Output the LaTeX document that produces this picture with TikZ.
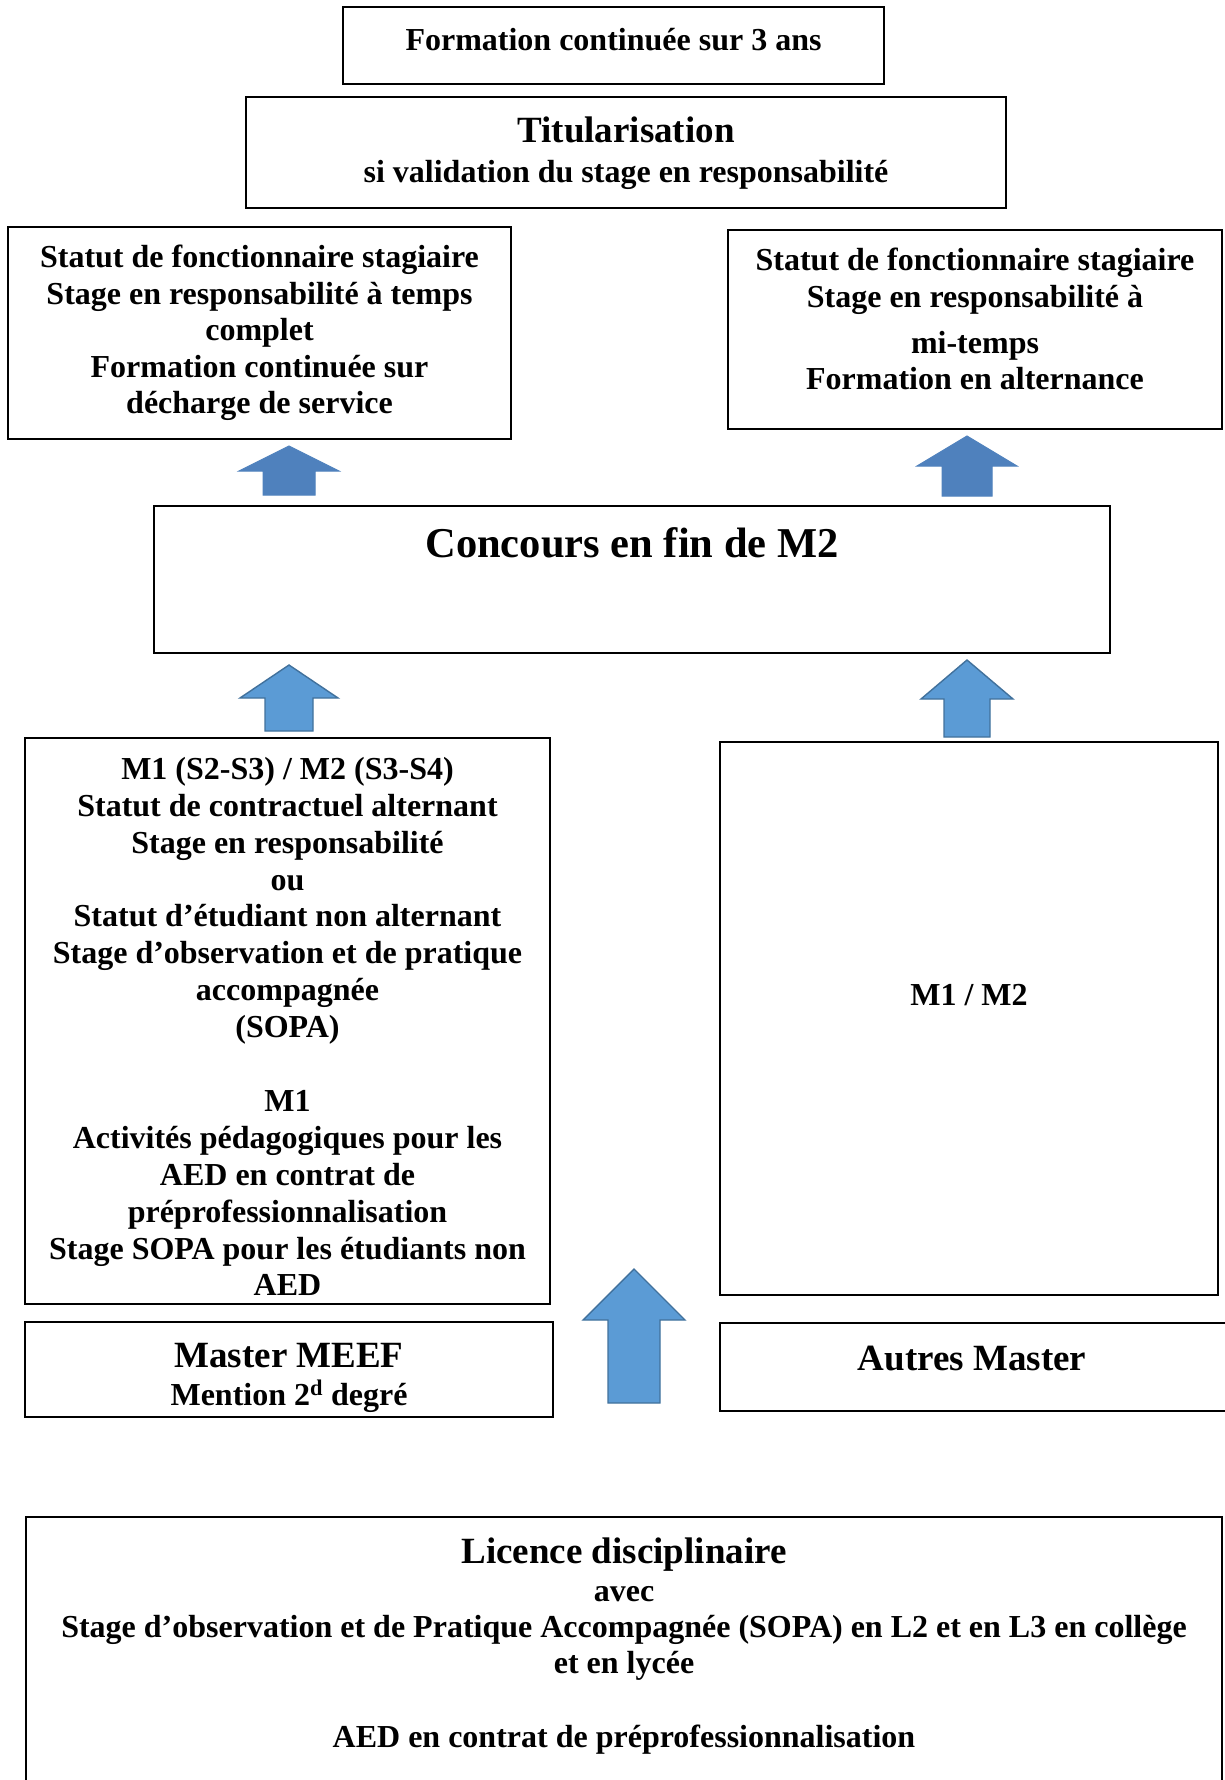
\documentclass[tikz,border=0pt]{standalone}
\usepackage{fontspec}
\setmainfont{Liberation Serif}
\begin{document}
\begin{tikzpicture}[x=1pt,y=-1pt,
  box/.style={draw=black,line width=2.2pt,fill=white,inner sep=0pt},
  txt/.style={font=\fontsize{32}{37}\selectfont\bfseries,inner sep=0pt,anchor=base},
  bigtxt/.style={font=\fontsize{37}{42}\selectfont\bfseries,inner sep=0pt,anchor=base},
  hugetxt/.style={font=\fontsize{42.5}{48}\selectfont\bfseries,inner sep=0pt,anchor=base},
  darkarrow/.style={fill=darkblue,draw=darkblue,line width=1pt,line join=miter},
  lightarrow/.style={fill=lightblue,draw=lightborder,line width=1.4pt,line join=miter}]
\definecolor{darkblue}{HTML}{4F81BD}
\definecolor{lightblue}{HTML}{5B9BD5}
\definecolor{lightborder}{HTML}{41719C}
\useasboundingbox[fill=white] (0,0) rectangle (1224,1780);

% rectangle node from its corners
\newcommand\boxnode[5]{%
  \node[box,minimum width={#4-#2},minimum height={#5-#3}] (#1) at ({(#2+#4)/2},{(#3+#5)/2}) {};}
% block arrow pointing up: style, centre x, tip y, head base y, bottom y, shaft half width, head half width
\newcommand\blockarrow[7]{%
  \path[#1] (#2,#3) -- ({#2+#7},#4) -- ({#2+#6},#4) -- ({#2+#6},#5)
    -- ({#2-#6},#5) -- ({#2-#6},#4) -- ({#2-#7},#4) -- cycle;}

% boxes
\boxnode{formation}{343}{7}{884}{84}
\boxnode{titul}{246}{97}{1006}{208}
\boxnode{statL}{8}{227}{511}{439}
\boxnode{statR}{728}{230}{1222}{429}
\boxnode{concours}{154}{506}{1110}{653}
\boxnode{meefbody}{25}{738}{550}{1304}
\boxnode{autresbody}{720}{742}{1218}{1295}
\boxnode{meef}{25}{1322}{553}{1417}
\boxnode{autres}{720}{1323}{1240}{1411}
\boxnode{licence}{26}{1517}{1222}{1800}

% arrows
\blockarrow{darkarrow}{289}{446}{471}{495}{26}{50}
\blockarrow{darkarrow}{967}{436}{466}{496}{25}{50}
\blockarrow{lightarrow}{289}{665}{698}{731}{24}{49}
\blockarrow{lightarrow}{967}{660}{699}{737}{23}{46}
\blockarrow{lightarrow}{634}{1269}{1320}{1403}{26}{51}

% texts
\node[txt] (t-form) at (613.5,50) {Formation continuée sur 3 ans};
\node[bigtxt] (t-titul) at (626,142) {Titularisation};
\node[txt] (t-valid) at (626,182) {si validation du stage en responsabilité};

\node[txt] (t-l1) at (259.5,267) {Statut de fonctionnaire stagiaire};
\node[txt] (t-l2) at (259.5,304) {Stage en responsabilité à temps};
\node[txt] (t-l3) at (259.5,340) {complet};
\node[txt] (t-l4) at (259.5,377) {Formation continuée sur};
\node[txt] (t-l5) at (259.5,413) {décharge de service};

\node[txt] (t-r1) at (975,270) {Statut de fonctionnaire stagiaire};
\node[txt] (t-r2) at (975,307) {Stage en responsabilité à};
\node[txt] (t-r3) at (975,353) {mi-temps};
\node[txt] (t-r4) at (975,389) {Formation en alternance};

\node[hugetxt] (t-conc) at (632,557) {Concours en fin de M2};

\foreach \line [count=\i] in {M1 (S2-S3) / M2 (S3-S4),
  Statut de contractuel alternant, Stage en responsabilité, ou,
  Statut d’étudiant non alternant, Stage d’observation et de pratique,
  accompagnée, (SOPA)}
  \node[txt] (t-ma\i) at (287.5,{779.3+(\i-1)*36.9}) {\line};
\foreach \line [count=\i] in {M1, Activités pédagogiques pour les,
  AED en contrat de, préprofessionnalisation,
  Stage SOPA pour les étudiants non, AED}
  \node[txt] (t-mb\i) at (287.5,{779.3+(\i+8)*36.9}) {\line};

\node[txt] (t-m1m2) at (969,1005) {M1 / M2};

\node[bigtxt] (t-meef) at (289,1367) {Master MEEF};
\node[txt] (t-mention) at (289,1405) {Mention 2\textsuperscript{d} degré};
\node[bigtxt] (t-autres) at (972,1370) {Autres Master};

\node[bigtxt] (t-lic) at (624,1563) {Licence disciplinaire};
\node[txt] (t-avec) at (624,1601) {avec};
\node[txt] (t-sopa) at (624,1637) {Stage d’observation et de Pratique Accompagnée (SOPA) en L2 et en L3 en collège};
\node[txt] (t-lycee) at (624,1673) {et en lycée};
\node[txt] (t-aed) at (624,1747) {AED en contrat de préprofessionnalisation};
\end{tikzpicture}
\end{document}
